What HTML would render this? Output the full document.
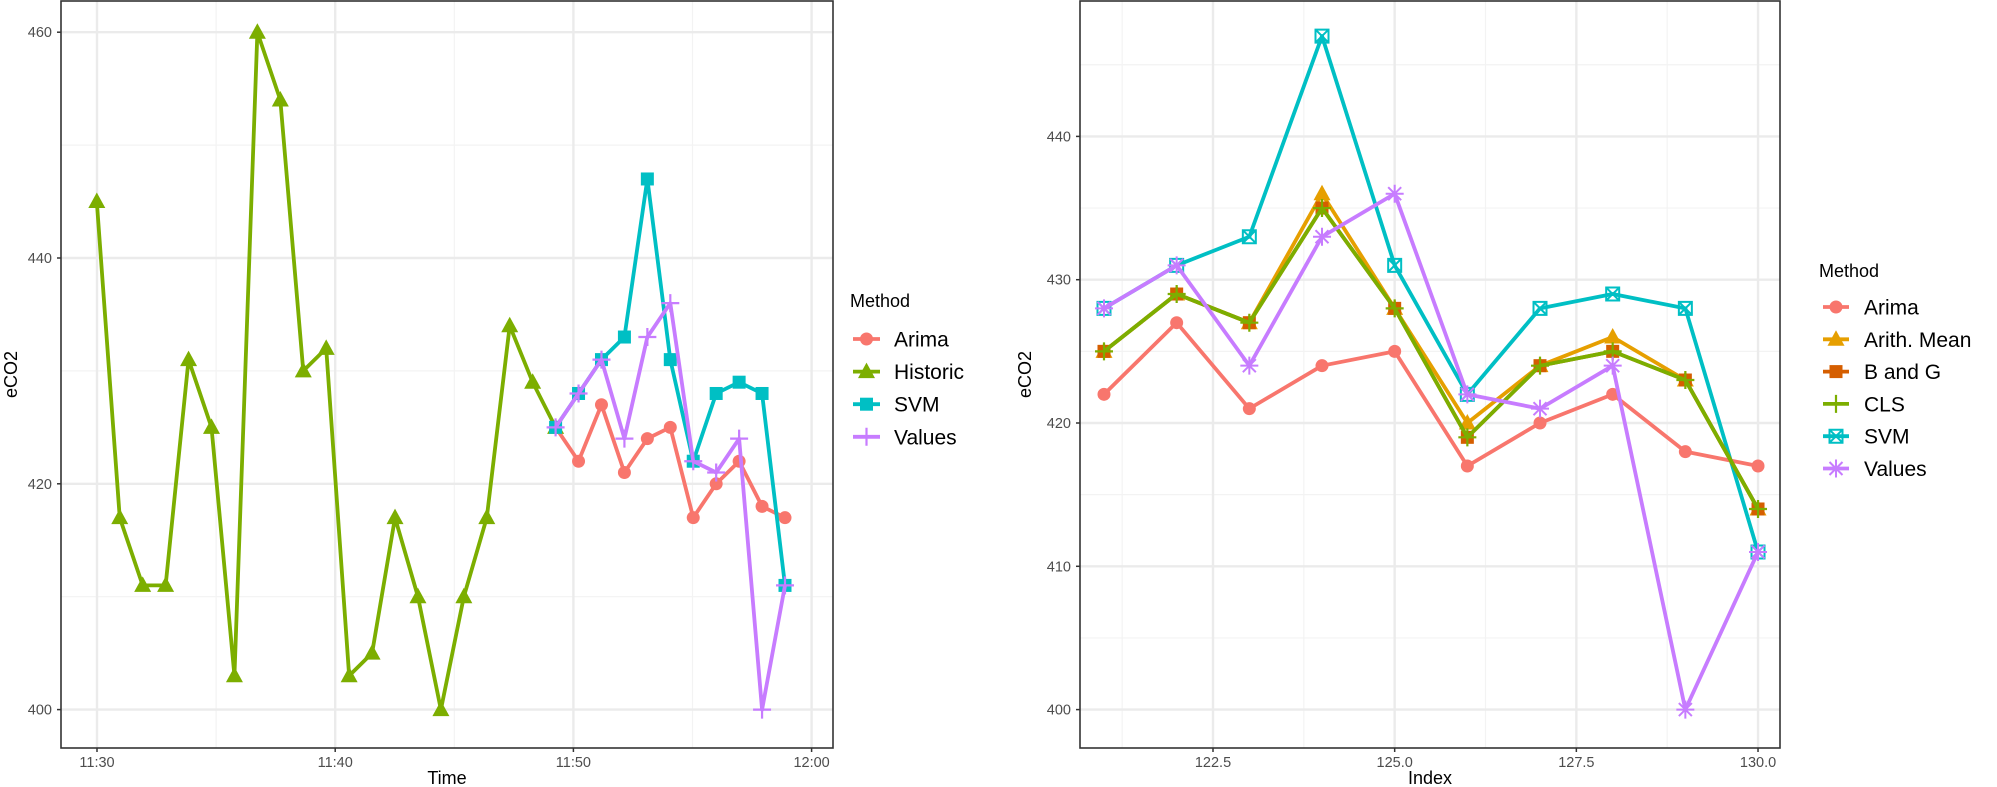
<!DOCTYPE html>
<html><head><meta charset="utf-8"><style>
html,body{margin:0;padding:0;background:#fff;}
svg{display:block;font-family:"Liberation Sans",sans-serif;}
</style></head><body>
<svg id="s" width="1997" height="787" viewBox="0 0 1997 787" xmlns="http://www.w3.org/2000/svg"></svg>
<script>
const s=document.getElementById('s');let h='';
const C={ar:'#F8766D',hi:'#7CAE00',sv:'#00BFC4',va:'#C77CFF',am:'#E69F00',bg:'#D55E00',cl:'#7CAE00'};
function mk(t,x,y,c){
 if(t=='c')return `<circle cx="${x}" cy="${y}" r="6.5" fill="${c}"/>`;
 if(t=='t')return `<polygon points="${x},${y-9} ${x-8.5},${y+6.5} ${x+8.5},${y+6.5}" fill="${c}"/>`;
 if(t=='s')return `<rect x="${x-6.5}" y="${y-6.5}" width="13" height="13" fill="${c}"/>`;
 if(t=='p')return `<path d="M${x-9} ${y}H${x+9}M${x} ${y-9}V${y+9}" stroke="${c}" stroke-width="2.2"/>`;
 if(t=='sx')return `<path d="M${x-6.5} ${y-6.5}h13v13h-13zM${x-6.5} ${y-6.5}l13 13M${x+6.5} ${y-6.5}l-13 13" stroke="${c}" stroke-width="2" fill="none"/>`;
 if(t=='a')return `<path d="M${x-9} ${y}H${x+9}M${x} ${y-9}V${y+9}M${x-6.5} ${y-6.5}l13 13M${x+6.5} ${y-6.5}l-13 13" stroke="${c}" stroke-width="2"/>`;
}
function series(xs,vals,fy,c,t){
 let p=xs.map((x,i)=>x+','+fy(vals[i])).join(' ');
 h+=`<polyline points="${p}" fill="none" stroke="${c}" stroke-width="3.8" stroke-linejoin="round"/>`;
 xs.forEach((x,i)=>h+=mk(t,x,fy(vals[i]),c));
}
const T=1,B=748;
// LEFT
const L0=61,L1=833;
const fyL=v=>709.6-(v-400)*11.29;
const fxL=m=>97+m*23.82;
for(let v=410;v<=450;v+=20)h+=`<line x1="${L0}" x2="${L1}" y1="${fyL(v)}" y2="${fyL(v)}" stroke="#f3f3f3" stroke-width="1.2"/>`;
for(let m=5;m<30;m+=10)h+=`<line y1="${T}" y2="${B}" x1="${fxL(m)}" x2="${fxL(m)}" stroke="#f3f3f3" stroke-width="1.2"/>`;
for(let v=400;v<=460;v+=20)h+=`<line x1="${L0}" x2="${L1}" y1="${fyL(v)}" y2="${fyL(v)}" stroke="#ebebeb" stroke-width="2.4"/><text x="${L0-9}" y="${fyL(v)+5}" font-size="14.5" fill="#4d4d4d" text-anchor="end">${v}</text><line x1="${L0-4}" x2="${L0}" y1="${fyL(v)}" y2="${fyL(v)}" stroke="#333" stroke-width="1.5"/>`;
['11:30','11:40','11:50','12:00'].forEach((l,i)=>{const x=fxL(i*10);h+=`<line y1="${T}" y2="${B}" x1="${x}" x2="${x}" stroke="#ebebeb" stroke-width="2.4"/><line y1="${B}" y2="${B+4}" x1="${x}" x2="${x}" stroke="#333" stroke-width="1.5"/><text x="${x}" y="${B+19}" font-size="14.5" fill="#4d4d4d" text-anchor="middle">${l}</text>`;});
const xh=[];for(let i=0;i<21;i++)xh.push(96.8+i*22.94);
const xf=[];for(let i=0;i<11;i++)xf.push(555.6+i*22.94);
series(xh,[445,417,411,411,431,425,403,460,454,430,432,403,405,417,410,400,410,417,434,429,425],fyL,C.hi,'t');
series(xf,[425,422,427,421,424,425,417,420,422,418,417],fyL,C.ar,'c');
series(xf,[425,428,431,433,447,431,422,428,429,428,411],fyL,C.sv,'s');
series(xf,[425,428,431,424,433,436,422,421,424,400,411],fyL,C.va,'p');
h+=`<rect x="${L0}" y="${T}" width="${L1-L0}" height="${B-T}" fill="none" stroke="#333" stroke-width="1.6"/>`;
h+=`<text x="${(L0+L1)/2}" y="784" font-size="18" text-anchor="middle">Time</text>`;
h+=`<text transform="translate(17,${(T+B)/2}) rotate(-90)" font-size="18" text-anchor="middle">eCO2</text>`;
h+=`<text x="850" y="307" font-size="18">Method</text>`;
[['Arima',C.ar,'c'],['Historic',C.hi,'t'],['SVM',C.sv,'s'],['Values',C.va,'p']].forEach((e,i)=>{const y=339+i*32.6;h+=`<line x1="853" x2="880" y1="${y}" y2="${y}" stroke="${e[1]}" stroke-width="3.8"/>`+mk(e[2],866.5,y,e[1])+`<text x="894" y="${y+7.5}" font-size="21">${e[0]}</text>`;});
// RIGHT
const R0=1080,R1=1780;
const fyR=v=>709.6-(v-400)*14.33;
const fxR=i=>1213+(i-122.5)*72.67;
for(let v=405;v<=445;v+=10)h+=`<line x1="${R0}" x2="${R1}" y1="${fyR(v)}" y2="${fyR(v)}" stroke="#f3f3f3" stroke-width="1.2"/>`;
[121.25,123.75,126.25,128.75].forEach(i=>h+=`<line y1="${T}" y2="${B}" x1="${fxR(i)}" x2="${fxR(i)}" stroke="#f3f3f3" stroke-width="1.2"/>`);
for(let v=400;v<=440;v+=10)h+=`<line x1="${R0}" x2="${R1}" y1="${fyR(v)}" y2="${fyR(v)}" stroke="#ebebeb" stroke-width="2.4"/><text x="${R0-9}" y="${fyR(v)+5}" font-size="14.5" fill="#4d4d4d" text-anchor="end">${v}</text><line x1="${R0-4}" x2="${R0}" y1="${fyR(v)}" y2="${fyR(v)}" stroke="#333" stroke-width="1.5"/>`;
['122.5','125.0','127.5','130.0'].forEach(l=>{const x=fxR(+l);h+=`<line y1="${T}" y2="${B}" x1="${x}" x2="${x}" stroke="#ebebeb" stroke-width="2.4"/><line y1="${B}" y2="${B+4}" x1="${x}" x2="${x}" stroke="#333" stroke-width="1.5"/><text x="${x}" y="${B+19}" font-size="14.5" fill="#4d4d4d" text-anchor="middle">${l}</text>`;});
const xr=[];for(let i=121;i<=130;i++)xr.push(fxR(i));
series(xr,[422,427,421,424,425,417,420,422,418,417],fyR,C.ar,'c');
series(xr,[428,431,433,447,431,422,428,429,428,411],fyR,C.sv,'sx');
series(xr,[425,429,427,436,428,420,424,426,423,414],fyR,C.am,'t');
series(xr,[425,429,427,435,428,419,424,425,423,414],fyR,C.bg,'s');
series(xr,[425,429,427,435,428,419,424,425,423,414],fyR,C.cl,'p');
series(xr,[428,431,424,433,436,422,421,424,400,411],fyR,C.va,'a');
h+=`<rect x="${R0}" y="${T}" width="${R1-R0}" height="${B-T}" fill="none" stroke="#333" stroke-width="1.6"/>`;
h+=`<text x="${(R0+R1)/2}" y="784" font-size="18" text-anchor="middle">Index</text>`;
h+=`<text transform="translate(1031,${(T+B)/2}) rotate(-90)" font-size="18" text-anchor="middle">eCO2</text>`;
h+=`<text x="1819" y="277" font-size="18">Method</text>`;
[['Arima',C.ar,'c'],['Arith. Mean',C.am,'t'],['B and G',C.bg,'s'],['CLS',C.cl,'p'],['SVM',C.sv,'sx'],['Values',C.va,'a']].forEach((e,i)=>{const y=307+i*32.3;h+=`<line x1="1823" x2="1849" y1="${y}" y2="${y}" stroke="${e[1]}" stroke-width="3.8"/>`+mk(e[2],1836,y,e[1])+`<text x="1864" y="${y+7.5}" font-size="21">${e[0]}</text>`;});
s.innerHTML=h;
</script>
</body></html>
